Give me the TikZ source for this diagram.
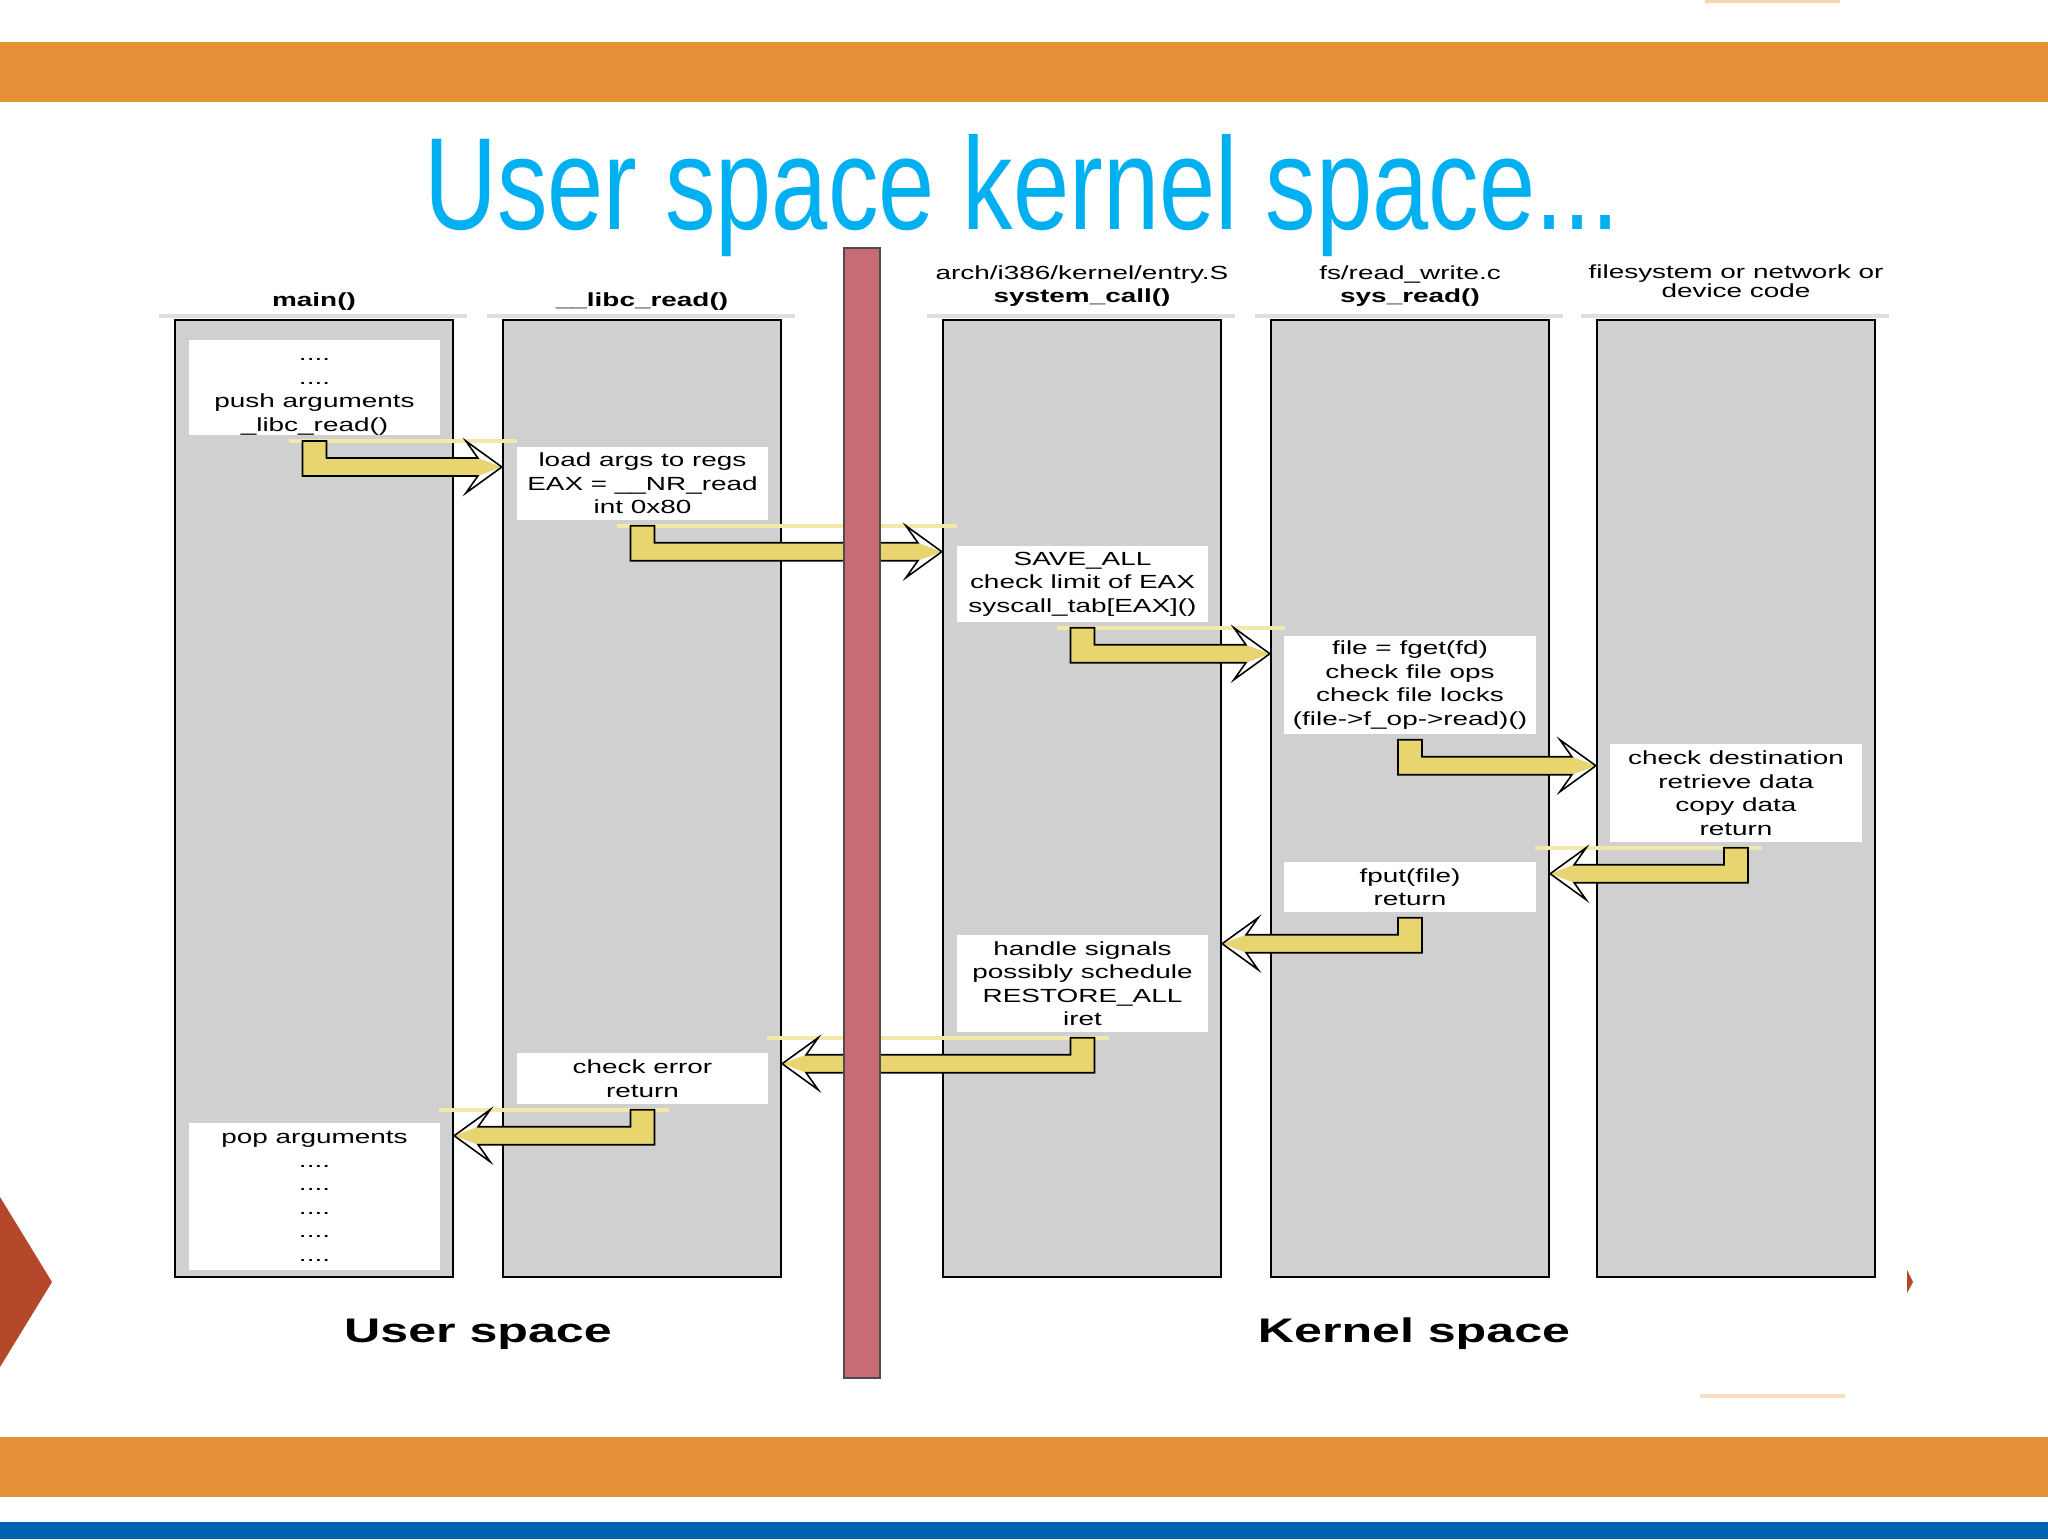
\documentclass[tikz,border=0pt]{standalone}
\usepackage{fontspec}
\setmainfont{Liberation Sans}
\newfontfamily\diagfont[FakeStretch=1.47]{Liberation Sans}
\newfontfamily\titlefont[FakeStretch=0.77]{Liberation Sans}
\usetikzlibrary{calc}
\definecolor{bandorange}{RGB}{230,145,56}
\definecolor{bandblue}{RGB}{0,99,177}
\definecolor{titlecyan}{RGB}{0,176,240}
\definecolor{colgrey}{RGB}{208,208,208}
\definecolor{gatered}{RGB}{198,108,114}
\definecolor{flowyellow}{RGB}{233,213,112}
\definecolor{ghostyellow}{RGB}{242,232,170}
\definecolor{markred}{RGB}{181,72,42}

% #1 source box, #2 target border, #3 direction (1 right, -1 left), #4 ghost style
\newcommand\flow[4]{%
  \coordinate (s) at ($(#1.south)+(0,5)$);
  \coordinate (t) at ($(#2 |- s)+(0,26)$);
  \draw[#4] ($(s)+({-(#3)*26},0)$) -- ($(t)+({(#3)*15},-26)$);
  \fill[flowyellow] ($(s)+({-(#3)*12},0)$) -- ($(s)+({(#3)*12},0)$) -- ($(s)+({(#3)*12},17)$)
    -- ($(t)+({-(#3)*24},-9)$) -- (t) -- ($(t)+({-(#3)*24},9)$) -- ($(s)+({-(#3)*12},35)$) -- cycle;
  \draw[line width=0.45pt,line join=miter] ($(s)+({-(#3)*12},0)$) -- ($(s)+({(#3)*12},0)$) -- ($(s)+({(#3)*12},17)$)
    -- ($(t)+({-(#3)*24},-9)$) -- ($(t)+({-(#3)*36},-26)$) -- (t) -- ($(t)+({-(#3)*36},26)$)
    -- ($(t)+({-(#3)*24},9)$) -- ($(s)+({-(#3)*12},35)$) -- cycle;
}

\begin{document}
\begin{tikzpicture}[x=0.01cm,y=-0.01cm,
  column/.style={draw,line width=0.6pt,fill=colgrey,minimum width=2.78cm,minimum height=9.57cm,inner sep=0pt},
  stepbox/.style={fill=white,inner sep=0pt,minimum width=2.51cm,align=center,font={\diagfont\fontsize{5.4}{6.69}\selectfont}},
  header/.style={anchor=base,align=center,font={\diagfont\fontsize{5.4}{6.5}\selectfont}},
  side/.style={anchor=base,font={\diagfont\bfseries\fontsize{9.7}{11}\selectfont}},
  ghost/.style={draw=ghostyellow,line width=1.2pt},
  noghost/.style={draw=none}]
\useasboundingbox (0,0) rectangle (2048,1539);
\fill[white] (0,0) rectangle (2048,1539);
\fill[bandorange] (0,42) rectangle (2048,102);
\fill[bandorange] (0,1437) rectangle (2048,1497);
\fill[bandblue] (0,1522) rectangle (2048,1539);
\draw[bandorange!40,line width=1pt] (1705,1) -- (1840,1);
\draw[bandorange!30,line width=1pt] (1700,1396) -- (1845,1396);
\fill[markred] (0,1197) -- (52,1282) -- (0,1367) -- cycle;
\fill[markred] (1907,1270) -- (1913,1282) -- (1907,1293) -- cycle;
\node[anchor=base,text=titlecyan,font={\titlefont\fontsize{37.3}{40}\selectfont}] (title) at (1022,229) {User space kernel space...};

\node[column] (colmain) at (314,798.5) {};
\node[column] (collibc) at (642,798.5) {};
\node[column] (colsyscall) at (1082,798.5) {};
\node[column] (colsysread) at (1410,798.5) {};
\node[column] (coldev) at (1736,798.5) {};
\foreach \c in {colmain,collibc,colsyscall,colsysread,coldev}
  \draw[gray!25,line width=1pt] ([xshift=-0.15cm,yshift=0.025cm]\c.north west) -- ([xshift=0.13cm,yshift=0.025cm]\c.north east);

\node[header] (hmain) at (314,306) {\bfseries main()};
\node[header] (hlibc) at (642,306) {\bfseries \_\_libc\_read()};
\node[header] (hsyscall) at (1082,302) {arch/i386/kernel/entry.S\\\textbf{system\_call()}};
\node[header] (hsysread) at (1410,302) {fs/read\_write.c\\\textbf{sys\_read()}};
\node[header,font={\diagfont\fontsize{5.4}{4.9}\selectfont}] (hdev) at (1736,297) {filesystem or network or\\[-0.8pt]device code};

\node[stepbox,minimum height=0.95cm] (push) at (314.5,387.5) {\rule{0pt}{6pt}....\\....\\push arguments\\\_libc\_read()};
\node[stepbox,minimum height=0.73cm] (load) at (642.5,483.5) {load args to regs\\EAX = \_\_NR\_read\\int 0x80};
\node[stepbox,minimum height=0.76cm] (save) at (1082.5,584) {SAVE\_ALL\\check limit of EAX\\syscall\_tab[EAX]()};
\node[stepbox,minimum height=0.98cm] (fget) at (1410,685) {file = fget(fd)\\check file ops\\check file locks\\(file->f\_op->read)()};
\node[stepbox,minimum height=0.98cm] (copy) at (1736,793) {check destination\\retrieve data\\copy data\\return};
\node[stepbox,minimum height=0.50cm] (fput) at (1410,887) {fput(file)\\return};
\node[stepbox,minimum height=0.97cm] (signals) at (1082.5,983.5) {handle signals\\possibly schedule\\RESTORE\_ALL\\iret};
\node[stepbox,minimum height=0.51cm] (chkerr) at (642.5,1078.5) {check error\\return};
\node[stepbox,minimum height=1.47cm] (pop) at (314.5,1196.5) {pop arguments\\....\\....\\....\\....\\....};

\flow{push}{collibc.west}{1}{ghost}
\flow{load}{colsyscall.west}{1}{ghost}
\flow{save}{colsysread.west}{1}{ghost}
\flow{fget}{coldev.west}{1}{noghost}
\flow{copy}{colsysread.east}{-1}{ghost}
\flow{fput}{colsyscall.east}{-1}{noghost}
\flow{signals}{collibc.east}{-1}{ghost}
\flow{chkerr}{colmain.east}{-1}{ghost}

\draw[fill=gatered,draw=black!70,line width=0.5pt] (844,248) rectangle (880,1378);

\node[side] (user) at (478,1342) {User space};
\node[side] (kernel) at (1414,1342) {Kernel space};
\end{tikzpicture}
\end{document}
